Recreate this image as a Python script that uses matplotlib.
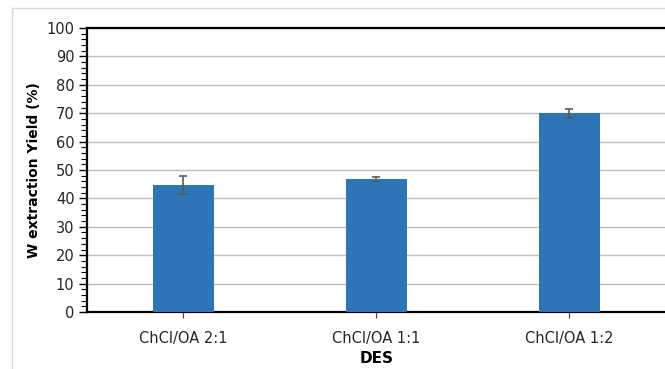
import matplotlib.pyplot as plt
from matplotlib.lines import Line2D
from matplotlib.ticker import MultipleLocator

categories = ["ChCl/OA 2:1", "ChCl/OA 1:1", "ChCl/OA 1:2"]
yields = [44.7, 46.8, 70.0]
errors = [3.3, 0.9, 1.6]

plt.rcParams["font.family"] = "DejaVu Sans"

W, H = 665, 369
fig = plt.figure(figsize=(W / 100, H / 100), dpi=100)
fig.patch.set_facecolor("white")

# light chart-area frame (cropped on the right and bottom)
frame_col = "#d9d9d9"
fig.add_artist(Line2D([12 / W, 12 / W], [0, 1 - 8 / H], transform=fig.transFigure, color=frame_col, lw=1))
fig.add_artist(Line2D([12 / W, 1], [1 - 8 / H, 1 - 8 / H], transform=fig.transFigure, color=frame_col, lw=1))

left, right, top, bottom = 87, 666, 28, 312
ax = fig.add_axes([left / W, 1 - bottom / H, (right - left) / W, (bottom - top) / H])

x = range(len(categories))
ax.bar(x, yields, width=0.32, color="#2e75b6", zorder=3)
ax.errorbar(x, yields, yerr=errors, fmt="none", ecolor="#595959", elinewidth=1.2,
            capsize=3, capthick=1.2, zorder=4)

ax.set_xlim(-0.5, 2.5)
ax.set_ylim(0, 100)
ax.yaxis.set_major_locator(MultipleLocator(10))
ax.yaxis.set_minor_locator(MultipleLocator(2))
ax.grid(True, axis="y", color="#bfbfbf", lw=1, zorder=0)

ax.set_xticks(list(x))
ax.set_xticklabels(categories, fontsize=10.5, color="#262626")
ax.tick_params(axis="x", length=4, width=0.8, color="#404040", pad=10)
ax.tick_params(axis="y", which="major", length=6, width=1, labelsize=10.5, labelcolor="#262626", pad=3)
ax.tick_params(axis="y", which="minor", length=4, width=0.8)

for s in ["top", "bottom", "left"]:
    ax.spines[s].set_linewidth(1.6)
    ax.spines[s].set_color("black")
ax.spines["right"].set_visible(False)

ax.set_ylabel("W extraction Yield (%)", fontsize=10, fontweight="bold", labelpad=4)
ax.set_xlabel("DES", fontsize=11, fontweight="bold", labelpad=3)

fig.savefig("out.png", dpi=100)
